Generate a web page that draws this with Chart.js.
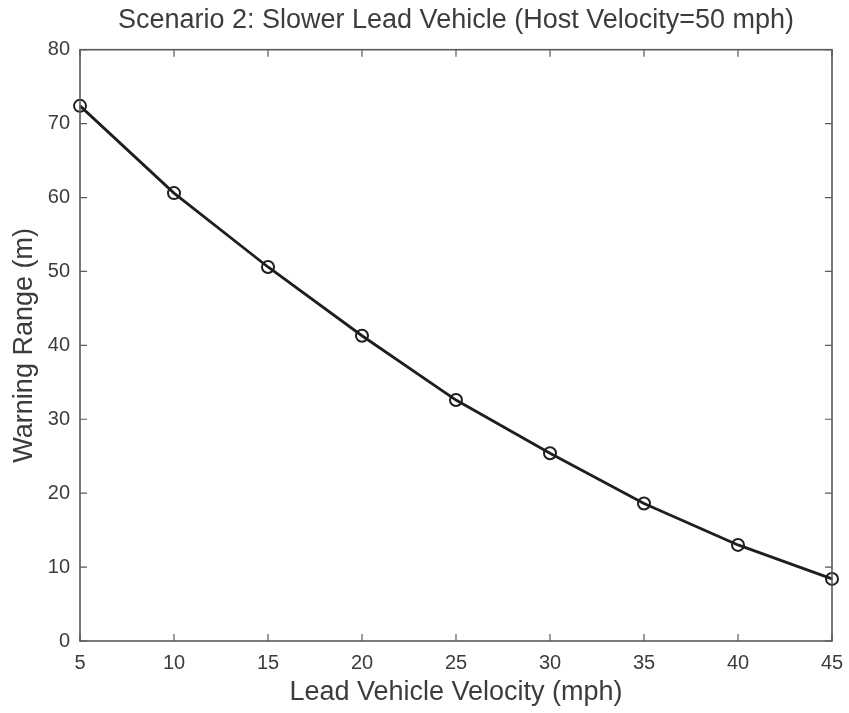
<!DOCTYPE html>
<html><head><meta charset="utf-8">
<script src="https://cdn.jsdelivr.net/npm/chart.js@4.4.1/dist/chart.umd.min.js"></script>
<style>html,body{margin:0;padding:0;background:#fff}#wrap{width:849px;height:713px}</style>
</head><body><div id="wrap"><canvas id="c" width="849" height="713"></canvas></div>
<script>
const leadVelocity = [5, 10, 15, 20, 25, 30, 35, 40, 45];
const warningRange = [72.4, 60.6, 50.6, 41.3, 32.6, 25.4, 18.6, 13.0, 8.4];
const xTicks = [5, 10, 15, 20, 25, 30, 35, 40, 45];
const yTicks = [0, 10, 20, 30, 40, 50, 60, 70, 80];
const titleText = 'Scenario 2: Slower Lead Vehicle (Host Velocity=50 mph)';
const xTitle = 'Lead Vehicle Velocity (mph)';
const yTitle = 'Warning Range (m)';

const FONT = '"Liberation Sans", Arial, sans-serif';
const TXT = '#3c3c3c';

const boxPlugin = {
  id: 'box',
  afterLayout(chart) {
    if (chart.titleBlock) {
      chart.titleBlock.left = chart.chartArea.left;
      chart.titleBlock.right = chart.chartArea.right;
    }
  },
  afterDatasetsDraw(chart) {
    const {ctx, chartArea: a, scales: {x, y}} = chart;
    ctx.save();
    ctx.strokeStyle = '#5a5a5a';
    ctx.lineWidth = 1.6;
    ctx.strokeRect(a.left, a.top, a.right - a.left, a.bottom - a.top);
    ctx.lineWidth = 1.2;
    const L = 7;
    ctx.beginPath();
    xTicks.forEach(v => {
      const px = x.getPixelForValue(v);
      ctx.moveTo(px, a.bottom); ctx.lineTo(px, a.bottom - L);
      ctx.moveTo(px, a.top); ctx.lineTo(px, a.top + L);
    });
    yTicks.forEach(v => {
      const py = y.getPixelForValue(v);
      ctx.moveTo(a.left, py); ctx.lineTo(a.left + L, py);
      ctx.moveTo(a.right, py); ctx.lineTo(a.right - L, py);
    });
    ctx.stroke();
    ctx.restore();
  }
};

new Chart(document.getElementById('c'), {
  type: 'line',
  data: {
    datasets: [{
      data: leadVelocity.map((v, i) => ({x: v, y: warningRange[i]})),
      borderColor: '#1e1e1e',
      borderWidth: 2.8,
      pointRadius: 6,
      pointBorderWidth: 2,
      pointBorderColor: '#1e1e1e',
      pointBackgroundColor: 'rgba(0,0,0,0)',
      pointStyle: 'circle',
      tension: 0,
      clip: false
    }]
  },
  options: {
    responsive: false,
    animation: false,
    layout: {padding: {left: 0, right: 0, top: 0, bottom: 0}},
    plugins: {
      legend: {display: false},
      tooltip: {enabled: false},
      title: {display: true, text: titleText, color: TXT,
        font: {family: FONT, size: 27, weight: 'normal', lineHeight: 1.1}, padding: {top: 6, bottom: 14}}
    },
    scales: {
      x: {
        type: 'linear', min: 5, max: 45,
        afterBuildTicks: s => { s.ticks = xTicks.map(v => ({value: v})); },
        afterFit: s => { s.height = 72; s.paddingRight = 17; s.paddingLeft = 0; },
        grid: {display: false, drawTicks: false},
        border: {display: false},
        ticks: {color: TXT, font: {family: FONT, size: 20}, padding: 10, maxRotation: 0},
        title: {display: true, text: xTitle, color: TXT,
          font: {family: FONT, size: 27, lineHeight: 1.1}, padding: {top: 0, bottom: 6}}
      },
      y: {
        min: 0, max: 80,
        afterBuildTicks: s => { s.ticks = yTicks.map(v => ({value: v})); },
        afterFit: s => { s.width = 80; },
        grid: {display: false, drawTicks: false},
        border: {display: false},
        ticks: {color: TXT, font: {family: FONT, size: 20}, padding: 10},
        title: {display: true, text: yTitle, color: TXT,
          font: {family: FONT, size: 27, lineHeight: 1.1}, padding: {top: 10, bottom: 0}}
      }
    }
  },
  plugins: [boxPlugin]
});
</script>
</body></html>
